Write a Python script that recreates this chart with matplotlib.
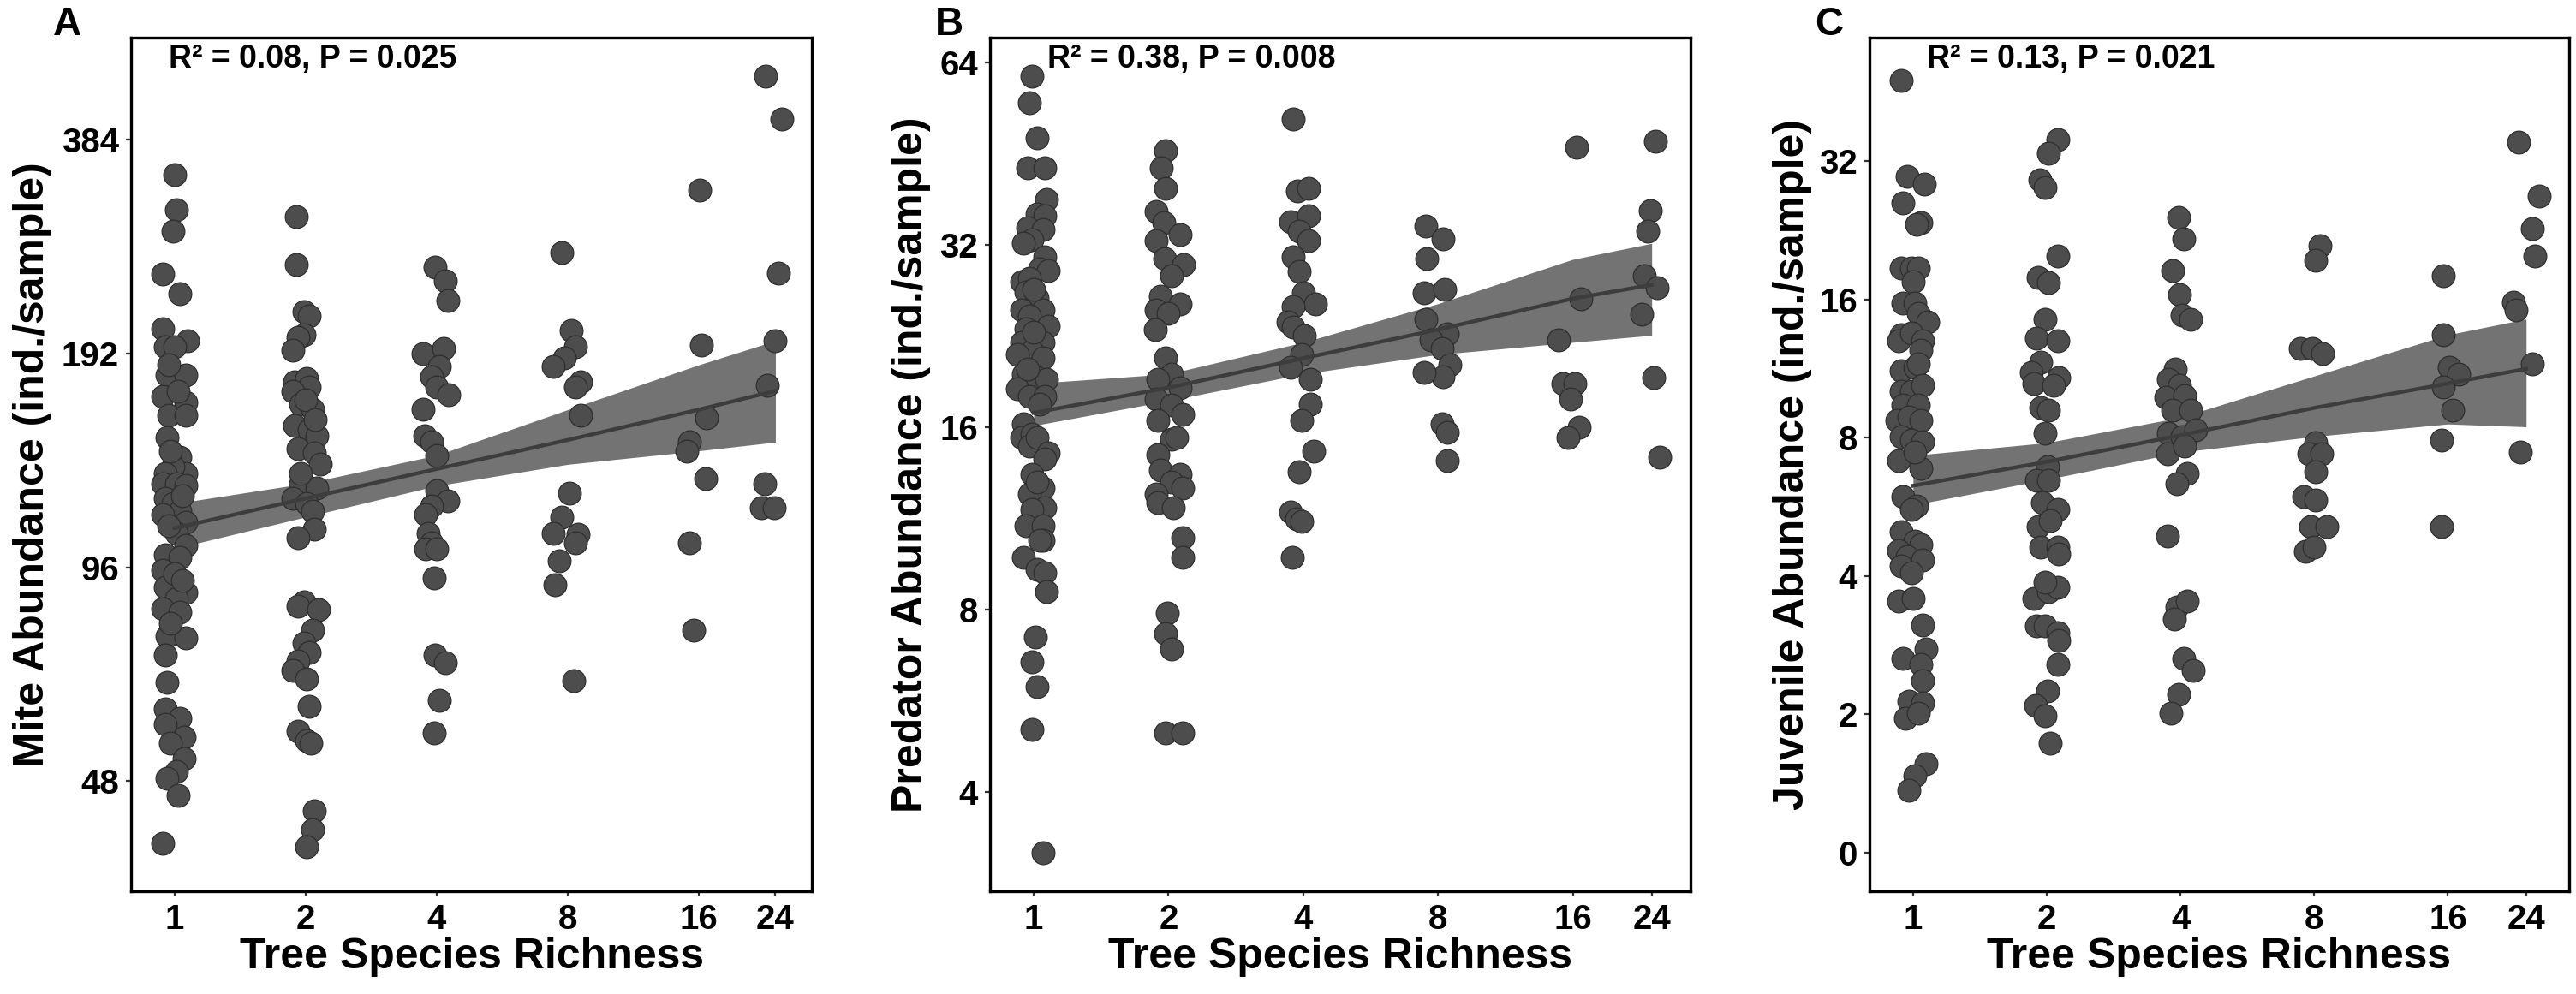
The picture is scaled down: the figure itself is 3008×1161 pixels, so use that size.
#!/usr/bin/env python

import matplotlib
matplotlib.use("Agg")
import matplotlib.pyplot as plt

plt.rcParams['font.family'] = ['Liberation Sans', 'DejaVu Sans']
plt.rcParams['font.weight'] = 'bold'
plt.rcParams['axes.labelweight'] = 'bold'

# richness levels shown on the x axis
richness_ticks = [1, 2, 4, 8, 16, 24]

# ---- panel A: mite abundance (x = jittered richness, y = ind./sample)
mite_x = [1.00, 1.01, 0.99, 0.94, 1.03, 0.94, 1.07, 0.95, 1.00, 0.96, 1.06, 0.94, 1.06, 0.97,
          1.06, 0.96, 1.03, 1.06, 0.99, 0.95, 0.94, 1.01, 1.06, 0.95, 0.99, 1.03, 0.94, 1.06,
          1.01, 1.06, 0.95, 1.03, 0.94, 0.95, 1.06, 1.01, 0.94, 1.03, 0.96, 1.06, 0.95, 0.96,
          0.95, 1.03, 0.95, 1.05, 0.98, 1.05, 1.01, 0.96, 1.02, 0.94, 0.97, 1.02, 0.98, 1.04,
          0.97, 1.00, 1.04, 0.98,
          1.90, 1.90, 1.98, 2.04, 1.98, 1.92, 1.87, 1.89, 2.01, 2.04, 1.87, 1.95, 2.07, 1.89,
          2.04, 2.12, 1.92, 2.09, 2.16, 1.95, 2.12, 1.87, 2.01, 2.07, 2.09, 1.92, 1.98, 1.92,
          2.14, 2.07, 1.98, 2.04, 1.92, 1.87, 2.01, 2.04, 1.92, 2.01, 2.06, 2.09, 2.07, 2.01,
          2.00, 1.95, 2.10,
          3.97, 4.18, 4.24, 3.72, 4.14, 4.06, 3.89, 4.00, 4.26, 3.72, 3.75, 3.89, 4.00, 4.00,
          4.24, 3.89, 3.78, 3.83, 3.89, 3.78, 4.00, 3.94, 3.97, 4.18, 4.06, 3.94,
          7.75, 8.16, 8.33, 7.86, 7.42, 8.57, 8.33, 8.57, 8.09, 7.75, 7.42, 8.45, 8.33, 7.64,
          7.49, 8.26,
          16.1, 16.2, 16.7, 15.2, 15.0, 16.6, 15.2, 15.6,
          22.8, 24.8, 24.4, 23.9, 23.0, 22.7, 22.3, 23.8]
mite_y = [343, 306, 285, 248, 233, 208, 200, 196, 196, 179, 179, 167, 164, 157,
          157, 146, 137, 130, 133, 130, 126, 126, 125, 120, 118, 115, 114, 111,
          107, 103, 100, 99, 95, 90, 88.5, 86.7, 84, 83, 76.7, 76.4, 72.2, 66.1,
          60.7, 58.9, 57.7, 55.4, 54.3, 51.6, 49.5, 48.4, 45.9, 39.3, 185, 170, 140, 121,
          110, 94, 92, 80,
          299, 256, 220, 217, 204, 202, 194, 175, 177, 172, 170, 163, 160, 152,
          150, 147, 141, 139, 134, 126, 124, 120, 118, 115, 108.5, 105.6, 85.8, 84.6,
          83.7, 78.3, 75.2, 72.9, 70.8, 68.8, 66.8, 61.1, 56.5, 54.8, 54.3, 43.6, 41.0, 38.8,
          165, 130, 155,
          254, 243, 228, 192, 195, 184, 178, 172, 168, 160, 147, 144, 138, 123,
          119, 117, 114, 107, 104, 102, 102, 92.7, 72.2, 70.4, 62.3, 56.2,
          266, 207, 196, 189, 184, 175, 172, 157, 122, 113, 107, 106.7, 104, 98,
          90.7, 66.5,
          326, 197, 156, 144, 140, 128, 104, 78.3,
          471, 410, 249, 200, 173, 126, 116.6, 116.6]
mite_fit = [109, 120, 132, 145, 160, 170]
mite_lo = [102, 113, 125, 134, 140, 144]
mite_hi = [118, 126, 138, 160, 185, 200]

# ---- panel B: predator abundance
pred_x = [0.99, 0.98, 1.02, 0.97, 1.06, 1.07, 1.02, 1.06, 0.97, 1.05, 0.99, 0.95, 1.06, 1.03,
          1.08, 0.94, 0.98, 0.96, 1.02, 0.94, 1.05, 0.98, 1.08, 0.96, 0.94, 1.05, 0.99, 0.92,
          1.05, 0.95, 1.01, 1.07, 0.92, 0.98, 1.06, 0.95, 0.94, 0.99, 0.98, 1.02, 1.08, 1.06,
          0.99, 1.05, 0.98, 1.06, 0.99, 0.96, 1.05, 1.05, 1.03, 0.95, 1.02, 1.06, 1.07, 1.01,
          0.99, 1.02, 0.99, 1.05, 1.00, 0.97, 1.03, 1.00, 1.02,
          1.97, 1.93, 1.97, 1.88, 1.95, 2.12, 1.88, 1.96, 2.16, 2.03, 1.92, 2.12, 1.88, 2.00,
          1.87, 1.97, 2.03, 1.89, 2.12, 1.88, 2.03, 2.15, 1.89, 2.03, 2.09, 1.89, 1.92, 2.12,
          2.03, 2.15, 1.88, 1.89, 2.05, 2.15, 2.15, 1.99, 1.97, 2.03, 1.97, 2.15,
          3.80, 3.89, 4.11, 3.75, 4.11, 3.91, 4.11, 3.80, 3.91, 4.00, 4.25, 3.80, 3.70, 3.80,
          4.02, 3.97, 3.75, 4.14, 4.14, 3.97, 4.23, 3.91, 3.75, 3.86, 3.97, 3.78,
          7.50, 8.20, 7.56, 7.46, 8.27, 7.50, 8.39, 7.71, 8.16, 8.51, 8.20, 7.46, 8.16, 8.39,
          8.39,
          16.3, 16.7, 14.9, 15.2, 16.2, 15.8, 16.5, 15.6,
          24.5, 23.8, 23.5, 23.1, 24.7, 22.8, 24.2, 25.0]
pred_y = [60.8, 55.0, 48.1, 42.9, 42.9, 38.1, 36.0, 35.8, 34.2, 34.0, 32.7, 32.2, 30.6, 29.2,
          29.0, 27.8, 28.2, 26.8, 26.2, 25.0, 25.0, 24.4, 23.5, 23.3, 22.1, 22.1, 21.4, 21.1,
          20.8, 19.6, 19.4, 19.2, 18.5, 18.0, 18.0, 16.2, 15.4, 15.6, 14.9, 15.4, 14.5, 14.2,
          13.4, 12.7, 12.4, 11.8, 11.7, 11.0, 11.0, 10.4, 10.4, 9.77, 9.31, 9.20, 8.56, 7.20,
          6.56, 5.96, 5.07, 3.17, 27.0, 20.0, 17.5, 23.0, 13.0,
          45.8, 42.9, 39.7, 36.3, 34.8, 33.3, 32.5, 30.4, 29.7, 28.5, 26.3, 25.6, 25.0, 24.7,
          23.2, 20.8, 19.6, 19.2, 18.6, 17.8, 17.4, 16.8, 16.4, 15.3, 15.4, 14.4, 13.6, 13.4,
          13.0, 12.7, 12.4, 12.0, 11.8, 10.5, 9.77, 7.90, 7.31, 6.89, 5.00, 5.00,
          51.7, 39.3, 39.7, 35.0, 35.8, 33.7, 32.5, 30.6, 28.9, 26.7, 25.6, 25.3, 23.9, 23.4,
          22.7, 21.1, 20.1, 19.2, 17.5, 16.4, 14.6, 13.5, 11.6, 11.3, 11.2, 9.77,
          34.4, 32.8, 30.4, 26.7, 27.0, 24.1, 22.8, 22.3, 21.6, 20.3, 19.4, 19.7, 16.2, 15.7,
          14.1,
          46.4, 26.1, 22.3, 18.9, 18.9, 17.8, 16.0, 15.4,
          47.5, 36.5, 33.7, 28.5, 27.2, 24.6, 19.3, 14.3]
pred_fit = [16.9, 18.6, 20.8, 23.2, 26.1, 27.5]
pred_lo = [16.1, 17.7, 19.6, 21.1, 22.1, 22.7]
pred_hi = [18.9, 19.6, 22.1, 25.6, 30.3, 32.2]

# ---- panel C: juvenile abundance (axis is log2 with 1 labelled as 0)
juv_x = [0.94, 0.97, 1.06, 0.95, 1.04, 1.02, 0.94, 0.99, 1.03, 1.00, 0.95, 1.01, 1.03, 1.08,
         0.94, 0.93, 0.99, 1.05, 0.94, 1.01, 1.04, 1.03, 0.94, 0.99, 1.05, 0.95, 1.03, 0.92,
         0.98, 1.04, 0.94, 0.99, 1.05, 0.93, 1.04, 1.01, 0.95, 1.02, 0.99, 0.94, 1.01, 1.04,
         0.93, 0.97, 1.05, 0.94, 0.99, 0.93, 1.00, 1.05, 1.07, 0.95, 1.04, 1.05, 0.98, 1.05,
         0.96, 1.03, 1.07, 1.01, 0.98,
         2.12, 2.02, 1.93, 1.98, 2.12, 1.91, 2.02, 1.98, 1.90, 2.12, 1.94, 1.85, 1.87, 2.13,
         2.07, 1.94, 2.02, 1.98, 2.01, 1.90, 2.02, 1.96, 2.12, 1.91, 2.04, 1.94, 2.12, 2.13,
         1.87, 2.02, 2.12, 1.98, 1.90, 1.98, 2.12, 2.13, 2.12, 2.01, 1.89, 1.98, 2.04,
         3.96, 4.07, 3.84, 3.98, 4.03, 4.21, 3.89, 3.76, 3.98, 3.70, 4.09, 3.84, 4.21, 3.76,
         4.03, 4.33, 3.74, 4.09, 4.15, 3.92, 3.74, 3.92, 4.15, 3.87, 4.07, 4.27, 3.96, 3.81,
         8.23, 8.07, 7.45, 7.93, 8.35, 8.07, 7.78, 8.30, 8.07, 7.56, 8.07, 7.84, 8.54, 7.66,
         8.00,
         15.6, 15.6, 16.1, 16.9, 15.6, 16.4, 15.5, 15.5,
         23.1, 25.7, 24.8, 25.1, 22.5, 22.8, 24.8, 23.3]
juv_y = [47.9, 29.6, 28.5, 25.9, 23.5, 23.3, 18.7, 18.7, 18.7, 17.5, 15.7, 15.7, 14.9, 14.3,
         13.4, 13.0, 13.5, 13.0, 11.2, 11.4, 12.4, 11.6, 10.1, 10.1, 10.4, 9.43, 9.43, 8.72,
         8.86, 8.72, 8.05, 7.92, 7.85, 7.14, 6.87, 7.44, 5.95, 5.68, 5.59, 5.00, 4.77, 4.69,
         4.55, 4.41, 4.34, 4.20, 4.07, 3.53, 3.58, 3.13, 2.78, 2.65, 2.57, 2.37, 2.14, 2.12,
         1.96, 2.01, 1.56, 1.47, 1.37,
         35.6, 33.3, 29.1, 28.0, 19.9, 17.9, 17.4, 14.5, 13.2, 13.0, 11.7, 11.1, 10.5, 10.8,
         10.4, 9.29, 9.20, 8.18, 6.91, 6.45, 6.45, 5.77, 5.59, 5.13, 5.29, 4.62, 4.62, 4.47,
         3.58, 3.70, 3.78, 3.88, 3.11, 3.11, 3.01, 2.90, 2.57, 2.25, 2.09, 1.99, 1.73,
         24.1, 21.7, 18.5, 16.4, 14.8, 14.5, 11.3, 10.7, 10.4, 9.80, 9.90, 9.20, 9.20, 8.18,
         8.05, 8.31, 7.37, 7.67, 6.69, 6.35, 4.88, 3.42, 3.53, 3.23, 2.65, 2.49, 2.21, 2.01,
         20.9, 19.5, 12.5, 12.5, 12.2, 7.80, 7.37, 7.37, 6.76, 5.95, 5.86, 5.13, 5.13, 4.52,
         4.62,
         18.0, 13.4, 11.4, 11.0, 10.3, 9.20, 7.92, 5.13,
         35.2, 26.9, 22.8, 19.9, 15.8, 15.2, 11.6, 7.44]
juv_fit = [6.29, 7.09, 8.10, 9.29, 10.5, 11.3]
juv_lo = [5.71, 6.49, 7.44, 8.05, 8.57, 8.45]
juv_hi = [7.32, 7.80, 8.86, 10.9, 13.4, 14.5]


def panel(fig, rect, x, y, fit, lo, hi, yticks, yticklabels, ylim, xlim,
          ylabel, stats, stats_x, ylabel_x, letter, letter_x):
    ax = fig.add_axes(rect)
    ax.set_xscale('log', base=2)
    ax.set_yscale('log', base=2)

    ax.fill_between(richness_ticks, lo, hi, color='#737373', lw=0, zorder=1)
    ax.scatter(x, y, s=370, c='#4d4d4d', edgecolors='#2e2e2e', linewidths=0.9, zorder=2)
    ax.plot(richness_ticks, fit, color='#3d3d3d', lw=3.2, zorder=3)

    ax.set_xlim(*xlim)
    ax.set_ylim(*ylim)
    ax.set_xticks(richness_ticks)
    ax.set_xticklabels([str(t) for t in richness_ticks])
    ax.set_yticks(yticks)
    ax.set_yticklabels(yticklabels)
    ax.minorticks_off()
    ax.tick_params(labelsize=29, length=4, width=1.6, color='#333333', pad=6)

    for s in ax.spines.values():
        s.set_linewidth(2.4)
        s.set_color('black')

    ax.set_xlabel('Tree Species Richness', fontsize=36, fontweight='bold', va='center')
    ax.xaxis.set_label_coords(0.5, -0.077)
    ax.set_ylabel(ylabel, fontsize=36, fontweight='bold', va='center')
    ax.yaxis.set_label_coords(ylabel_x, 0.5)

    ax.text(stats_x, 0.965, stats, transform=ax.transAxes, fontsize=27,
            va='baseline', ha='left')
    fig.text(letter_x, 0.994, letter, fontsize=33, va='top', ha='left')
    return ax


def main():
    fig = plt.figure(figsize=(30.08, 11.61), dpi=100)
    bottom = 120 / 1161
    height = 997 / 1161

    panel(fig, [153 / 3008, bottom, 795 / 3008, height], mite_x, mite_y,
          mite_fit, mite_lo, mite_hi, [48, 96, 192, 384], ['48', '96', '192', '384'],
          (33.6, 534), (0.794, 29.1), 'Mite Abundance (ind./sample)',
          'R² = 0.08, P = 0.025', 0.055, -0.145, 'A', 62 / 3008)

    panel(fig, [1156 / 3008, bottom, 818 / 3008, height], pred_x, pred_y,
          pred_fit, pred_lo, pred_hi, [4, 8, 16, 32, 64], ['4', '8', '16', '32', '64'],
          (2.74, 70.4), (0.799, 29.3), 'Predator Abundance (ind./sample)',
          'R² = 0.38, P = 0.008', 0.082, -0.113, 'B', 1092 / 3008)

    panel(fig, [2183 / 3008, bottom, 817 / 3008, height], juv_x, juv_y,
          juv_fit, juv_lo, juv_hi, [1, 2, 4, 8, 16, 32], ['0', '2', '4', '8', '16', '32'],
          (0.824, 59.4), (0.798, 30.0), 'Juvenile Abundance (ind./sample)',
          'R² = 0.13, P = 0.021', 0.082, -0.11, 'C', 2119 / 3008)

    fig.savefig('out.png', dpi=100, facecolor='white')


if __name__ == "__main__":
    main()
